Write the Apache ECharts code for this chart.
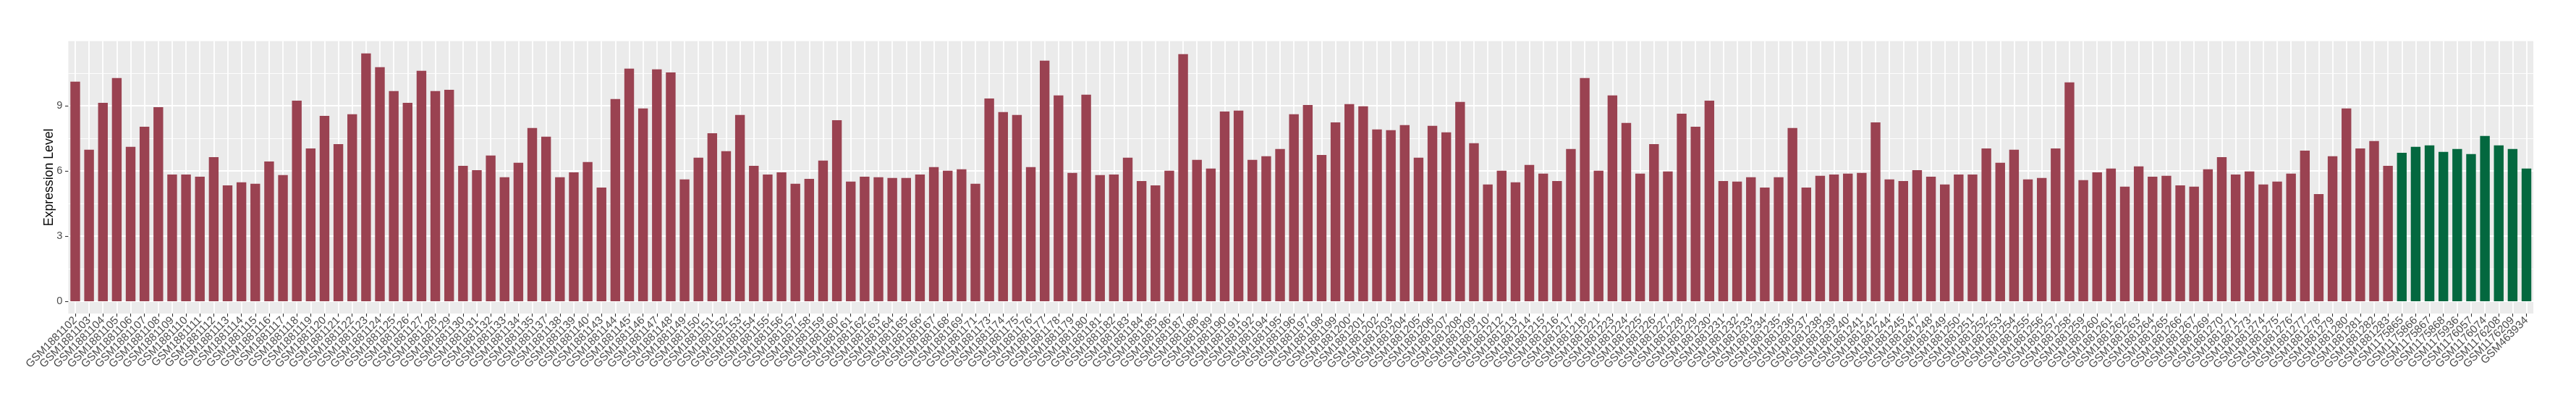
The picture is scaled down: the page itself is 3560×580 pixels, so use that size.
<!DOCTYPE html>
<html>
<head>
<meta charset="utf-8">
<script src="https://cdn.jsdelivr.net/npm/echarts@6/dist/echarts.min.js"></script>
<style>
html, body { margin: 0; padding: 0; background: #ffffff; }
#chart { width: 3560px; height: 580px; }
</style>
</head>
<body>
<div id="chart"></div>
<script>
// ---- data ----
const tumorSamples = [
  "GSM1881102","GSM1881103","GSM1881104","GSM1881105","GSM1881106","GSM1881107","GSM1881108","GSM1881109","GSM1881110","GSM1881111",
  "GSM1881112","GSM1881113","GSM1881114","GSM1881115","GSM1881116","GSM1881117","GSM1881118","GSM1881119","GSM1881120","GSM1881121",
  "GSM1881122","GSM1881123","GSM1881124","GSM1881125","GSM1881126","GSM1881127","GSM1881128","GSM1881129","GSM1881130","GSM1881131",
  "GSM1881132","GSM1881133","GSM1881134","GSM1881135","GSM1881137","GSM1881138","GSM1881139","GSM1881140","GSM1881143","GSM1881144",
  "GSM1881145","GSM1881146","GSM1881147","GSM1881148","GSM1881149","GSM1881150","GSM1881151","GSM1881152","GSM1881153","GSM1881154",
  "GSM1881155","GSM1881156","GSM1881157","GSM1881158","GSM1881159","GSM1881160","GSM1881161","GSM1881162","GSM1881163","GSM1881164",
  "GSM1881165","GSM1881166","GSM1881167","GSM1881168","GSM1881169","GSM1881171","GSM1881173","GSM1881174","GSM1881175","GSM1881176",
  "GSM1881177","GSM1881178","GSM1881179","GSM1881180","GSM1881181","GSM1881182","GSM1881183","GSM1881184","GSM1881185","GSM1881186",
  "GSM1881187","GSM1881188","GSM1881189","GSM1881190","GSM1881191","GSM1881192","GSM1881194","GSM1881195","GSM1881196","GSM1881197",
  "GSM1881198","GSM1881199","GSM1881200","GSM1881201","GSM1881202","GSM1881203","GSM1881204","GSM1881205","GSM1881206","GSM1881207",
  "GSM1881208","GSM1881209","GSM1881210","GSM1881212","GSM1881213","GSM1881214","GSM1881215","GSM1881216","GSM1881217","GSM1881218",
  "GSM1881221","GSM1881223","GSM1881224","GSM1881225","GSM1881226","GSM1881227","GSM1881228","GSM1881229","GSM1881230","GSM1881231",
  "GSM1881232","GSM1881233","GSM1881234","GSM1881235","GSM1881236","GSM1881237","GSM1881238","GSM1881239","GSM1881240","GSM1881241",
  "GSM1881242","GSM1881244","GSM1881245","GSM1881247","GSM1881248","GSM1881249","GSM1881250","GSM1881251","GSM1881252","GSM1881253",
  "GSM1881254","GSM1881255","GSM1881256","GSM1881257","GSM1881258","GSM1881259","GSM1881260","GSM1881261","GSM1881262","GSM1881263",
  "GSM1881264","GSM1881265","GSM1881266","GSM1881267","GSM1881269","GSM1881270","GSM1881271","GSM1881273","GSM1881274","GSM1881275",
  "GSM1881276","GSM1881277","GSM1881278","GSM1881279","GSM1881280","GSM1881281","GSM1881282","GSM1881283"
];
const tumorValues = [
  10.10, 6.97, 9.13, 10.27, 7.10, 8.03, 8.93, 5.83, 5.83, 5.73,
  6.63, 5.33, 5.47, 5.40, 6.43, 5.80, 9.23, 7.03, 8.53, 7.23,
  8.60, 11.40, 10.77, 9.67, 9.13, 10.60, 9.67, 9.73, 6.23, 6.03,
  6.70, 5.70, 6.37, 7.97, 7.57, 5.70, 5.93, 6.40, 5.23, 9.30,
  10.70, 8.87, 10.67, 10.53, 5.60, 6.60, 7.73, 6.90, 8.57, 6.23,
  5.83, 5.93, 5.40, 5.63, 6.47, 8.33, 5.50, 5.73, 5.70, 5.67,
  5.67, 5.83, 6.17, 6.00, 6.07, 5.40, 9.33, 8.70, 8.57, 6.17,
  11.07, 9.47, 5.90, 9.50, 5.80, 5.83, 6.60, 5.53, 5.33, 6.00,
  11.37, 6.50, 6.10, 8.73, 8.77, 6.50, 6.67, 7.00, 8.60, 9.03,
  6.73, 8.23, 9.07, 8.97, 7.90, 7.87, 8.10, 6.60, 8.07, 7.77,
  9.17, 7.27, 5.37, 6.00, 5.47, 6.27, 5.87, 5.53, 7.00, 10.27,
  6.00, 9.47, 8.20, 5.87, 7.23, 5.97, 8.63, 8.03, 9.23, 5.53,
  5.50, 5.70, 5.23, 5.70, 7.97, 5.23, 5.77, 5.83, 5.87, 5.90,
  8.23, 5.60, 5.53, 6.03, 5.73, 5.37, 5.83, 5.83, 7.03, 6.37,
  6.97, 5.60, 5.67, 7.03, 10.07, 5.57, 5.93, 6.10, 5.27, 6.20,
  5.73, 5.77, 5.33, 5.27, 6.07, 6.63, 5.83, 5.97, 5.37, 5.50,
  5.87, 6.93, 4.93, 6.67, 8.87, 7.03, 7.37, 6.23
];
const normalSamples = [
  "GSM1175865","GSM1175866","GSM1175867","GSM1175868","GSM1175936",
  "GSM1176057","GSM1176074","GSM1176208","GSM1176209","GSM463934"
];
const normalValues = [6.83, 7.10, 7.17, 6.87, 7.00, 6.77, 7.60, 7.17, 7.00, 6.10];

const yTicks = [0, 3, 6, 9];
const yMinorTicks = [1.5, 4.5, 7.5, 10.5];
const yTitle = "Expression Level";

// ---- chart ----
const tumorColor = "#9A4251";
const normalColor = "#03683F";
const fontFamily = "'Liberation Sans', Arial, Helvetica, sans-serif";

const categories = tumorSamples.concat(normalSamples);
const barData = tumorValues.map(v => ({ value: v, itemStyle: { color: tumorColor } }))
  .concat(normalValues.map(v => ({ value: v, itemStyle: { color: normalColor } })));

const allValues = tumorValues.concat(normalValues);
const vmax = Math.max.apply(null, allValues);
const yMin = -0.05 * vmax;
const yMax = vmax * 1.05;

const chart = echarts.init(document.getElementById('chart'), null, { renderer: 'canvas' });
chart.setOption({
  animation: false,
  backgroundColor: '#FFFFFF',
  textStyle: { fontFamily: fontFamily },
  grid: {
    left: 94.4, right: 58.9, top: 56.7, bottom: 147,
    show: true, backgroundColor: '#EBEBEB', borderWidth: 0,
    containLabel: false
  },
  xAxis: {
    type: 'category',
    data: categories,
    boundaryGap: true,
    axisLine: { show: false, onZero: false },
    axisTick: { show: true, alignWithLabel: true, length: 4.4, interval: 0, lineStyle: { color: '#333333', width: 1.1 } },
    axisLabel: {
      interval: 0, rotate: 45, fontSize: 15.2, color: '#4D4D4D', margin: 7,
      fontFamily: fontFamily
    },
    splitLine: { show: true, alignWithLabel: true, interval: 0, lineStyle: { color: '#FFFFFF', width: 1.8 } }
  },
  yAxis: [{
    type: 'value',
    min: yMin, max: yMax,
    axisLine: { show: false },
    axisTick: { show: true, length: 4.4, customValues: yTicks, lineStyle: { color: '#333333', width: 1.1 } },
    axisLabel: { customValues: yTicks, fontSize: 14.6, color: '#4D4D4D', margin: 8, fontFamily: fontFamily },
    splitLine: { show: true, lineStyle: { color: '#FFFFFF', width: 1.8 } },
    name: yTitle,
    nameLocation: 'middle',
    nameGap: 17,
    nameMoveOverlap: false,
    nameRotate: 90,
    nameTextStyle: { fontSize: 17.7, color: '#000000', fontFamily: fontFamily }
  }, {
    type: 'value',
    min: yMin, max: yMax,
    position: 'left',
    axisLine: { show: false },
    axisTick: { show: false, customValues: yMinorTicks },
    axisLabel: { show: false, customValues: yMinorTicks },
    splitLine: { show: true, lineStyle: { color: '#FFFFFF', width: 0.9 } }
  }],
  series: [{
    type: 'bar',
    data: barData,
    barWidth: '70%',
    yAxisIndex: 0,
    z: 3
  }]
});
</script>
</body>
</html>
